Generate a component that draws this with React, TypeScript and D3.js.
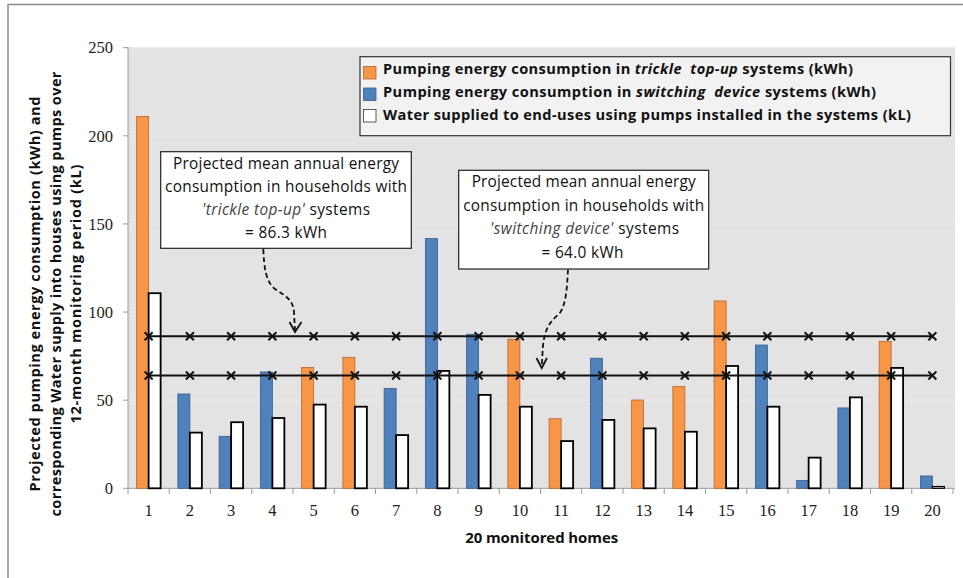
import React from "react";
import * as d3 from "d3";

const homes = ["1","2","3","4","5","6","7","8","9","10","11","12","13","14","15","16","17","18","19","20"];
const systemType = ["t","s","s","s","t","t","s","s","s","t","t","s","t","t","t","s","s","s","t","s"];
const energyKWh = [211, 53.5, 29.5, 66, 68.5, 74.3, 56.7, 141.7, 87.4, 84.6, 39.5, 73.8, 50.1, 57.7, 106.3, 81.3, 4.5, 45.6, 83.4, 7];
const waterKL = [110.7, 31.6, 37.5, 39.9, 47.5, 46.3, 30.2, 66.6, 53, 46.3, 26.8, 38.8, 34, 32.1, 69.4, 46.3, 17.4, 51.6, 68.3, 1];
const meanTrickle = 86.3;
const meanSwitching = 64.0;
const yTicks = [0, 50, 100, 150, 200, 250];

const W = 963, H = 578;
const FONT = "'Open Sans', Lato, sans-serif";
const NUMFONT = "'Liberation Serif', 'DejaVu Serif', serif";
const ORANGE = "#F79646";
const BLUE = "#4F81BD";

export default function App() {
  const x = d3.scaleBand<string>().domain(homes).range([128, 953]).padding(0);
  const sub = d3.scaleBand<string>().domain(["e", "w"]).range([0, x.bandwidth()]).paddingInner(0).paddingOuter(0.72);
  const y = d3.scaleLinear().domain([0, 250]).range([488.3, 47.7]);
  const cx = (h: string) => (x(h) as number) + x.bandwidth() / 2;

  const mk = (v: number) =>
    homes.map((h) => {
      const px = cx(h), py = y(v);
      const r = 4;
      return (
        <path key={h} d={`M${px - r},${py - r}L${px + r},${py + r}M${px - r},${py + r}L${px + r},${py - r}`} stroke="#111" strokeWidth={2} />
      );
    });
  const meanLine = (v: number) => d3.line<string>().x((h) => cx(h)).y(() => y(v))(homes) as string;

  const legendItems = [
    { c: ORANGE, s: "#b8652a", len: 470, parts: [["Pumping energy consumption in ", false], ["trickle  top-up", true], [" systems (kWh)", false]] },
    { c: BLUE, s: "#385d8a", len: 493, parts: [["Pumping energy consumption in ", false], ["switching  device", true], [" systems (kWh)", false]] },
    { c: "#fff", s: "#333", len: 528, parts: [["Water supplied to end-uses using pumps installed in the systems (kL)", false]] },
  ];

  return (
    <svg width={W} height={H} style={{ position: "absolute", left: 0, top: 0, background: "#fff" }} fontFamily={FONT}>
      <rect x={0} y={0} width={W} height={H} fill="#fff" />
      {/* frame */}
      <path d={`M8,${H}L8,4.5L${W},4.5`} fill="none" stroke="#8a8a8a" strokeWidth={1.5} />
      {/* plot background */}
      <rect x={128} y={47} width={827} height={441.3} fill="#e3e3e3" />
      {yTicks.filter((t) => t > 0).map((t) => (
        <line key={t} x1={128} x2={955} y1={y(t)} y2={y(t)} stroke="#ededed" strokeWidth={1} />
      ))}
      {/* y axis */}
      <line x1={128} x2={128} y1={47} y2={488.3} stroke="#9a9a9a" strokeWidth={1} />
      {yTicks.map((t) => (
        <g key={t}>
          <line x1={123} x2={128} y1={y(t)} y2={y(t)} stroke="#9a9a9a" />
          <text x={113} y={y(t)} dy="0.35em" textAnchor="end" fontSize={16.5} fontFamily={NUMFONT} fill="#222">{t}</text>
        </g>
      ))}
      {/* x axis */}
      <line x1={128} x2={955} y1={488.3} y2={488.3} stroke="#9a9a9a" strokeWidth={1} />
      {homes.map((h) => (
        <line key={"t" + h} x1={x(h)} x2={x(h)} y1={488.3} y2={494} stroke="#9a9a9a" />
      ))}
      <line x1={953} x2={953} y1={488.3} y2={494} stroke="#9a9a9a" />
      {homes.map((h) => (
        <text key={"l" + h} x={cx(h)} y={510} dy="0.35em" textAnchor="middle" fontSize={16.5} fontFamily={NUMFONT} fill="#222">{h}</text>
      ))}
      {/* bars */}
      {homes.map((h, i) => {
        const x0 = x(h) as number;
        const e = energyKWh[i], w = waterKL[i];
        const isT = systemType[i] === "t";
        return (
          <g key={"b" + h}>
            <rect x={x0 + (sub("e") as number)} y={y(e)} width={sub.bandwidth()} height={y(0) - y(e)}
              fill={isT ? ORANGE : BLUE} stroke={isT ? "#b8652a" : "#385d8a"} strokeWidth={0.8} />
            <rect x={x0 + (sub("w") as number)} y={y(w)} width={sub.bandwidth()} height={y(0) - y(w)}
              fill="#fff" stroke="#000" strokeWidth={w < 3 ? 1.2 : 1.8} />
          </g>
        );
      })}
      {/* mean lines */}
      <path d={meanLine(meanTrickle)} stroke="#111" strokeWidth={2} fill="none" />
      <path d={meanLine(meanSwitching)} stroke="#111" strokeWidth={2} fill="none" />
      {mk(meanTrickle)}
      {mk(meanSwitching)}
      {/* legend */}
      <rect x={360} y={56.7} width={590.5} height={79} fill="#f2f2f2" stroke="#333" strokeWidth={1.2} />
      {legendItems.map((it, k) => (
        <g key={"lg" + k}>
          <rect x={363.5} y={66.5 + k * 21.5} width={12.5} height={12.5} fill={it.c} stroke={it.s} strokeWidth={0.8} />
          <text x={383} y={68.7 + k * 23.2} dy="0.35em" fontSize={14.6} fontWeight="bold" fill="#111"
            textLength={it.len} lengthAdjust="spacing" style={{ whiteSpace: "pre" }}>
            {it.parts.map((p, j) => (
              <tspan key={j} fontStyle={p[1] ? "italic" : "normal"}>{p[0] as string}</tspan>
            ))}
          </text>
        </g>
      ))}
      {/* annotation 1 */}
      <rect x={160.7} y={151.7} width={250.6} height={96.6} fill="#fff" stroke="#222" strokeWidth={1.2} />
      <g fontSize={15.4} fill="#111" textAnchor="middle">
        <text x={286} y={163.5} dy="0.35em" textLength={226} lengthAdjust="spacing">Projected mean annual energy</text>
        <text x={286} y={187} dy="0.35em" textLength={242} lengthAdjust="spacing">consumption in households with</text>
        <text x={286} y={210} dy="0.35em" textLength={168} lengthAdjust="spacing"><tspan fontStyle="italic" fill="#444">'trickle top-up'</tspan> systems</text>
        <text x={286} y={233} dy="0.35em" textLength={82} lengthAdjust="spacing">= 86.3 kWh</text>
      </g>
      {/* annotation 2 */}
      <rect x={458.7} y={170.3} width={250} height={98.7} fill="#fff" stroke="#222" strokeWidth={1.2} />
      <g fontSize={15.4} fill="#111" textAnchor="middle">
        <text x={583.7} y={182} dy="0.35em" textLength={224} lengthAdjust="spacing">Projected mean annual energy</text>
        <text x={583.7} y={205.5} dy="0.35em" textLength={241} lengthAdjust="spacing">consumption in households with</text>
        <text x={584.5} y={229} dy="0.35em" textLength={189} lengthAdjust="spacing"><tspan fontStyle="italic" fill="#444">'switching device'</tspan> systems</text>
        <text x={582.5} y={252.5} dy="0.35em" textLength={82} lengthAdjust="spacing">= 64.0 kWh</text>
      </g>
      {/* dashed arrows */}
      <path d="M263.3,249 C264,268 266,282 275,289 C286,296 293,300 294,312 L295,331" fill="none" stroke="#111" strokeWidth={1.8} strokeDasharray="5,3" />
      <path d="M289.5,322 L295,332 L301.5,322" fill="none" stroke="#111" strokeWidth={1.8} />
      <path d="M568,269.5 C567,288 566,306 559,314 C549,322 545,330 543,345 L541.7,367" fill="none" stroke="#111" strokeWidth={1.8} strokeDasharray="5,3" />
      <path d="M536.5,358 L541.7,368 L547,358" fill="none" stroke="#111" strokeWidth={1.8} />
      {/* axis titles */}
      <g transform="translate(0,294) rotate(-90)" textAnchor="middle" fontSize={14.6} fontWeight="bold" fill="#111">
        <text x={0} y={35} dy="0.35em" textLength={395} lengthAdjust="spacing">Projected pumping energy consumption (kWh) and</text>
        <text x={0} y={56} dy="0.35em" textLength={445} lengthAdjust="spacing">corresponding Water supply into houses using pumps over</text>
        <text x={0} y={76} dy="0.35em" textLength={259} lengthAdjust="spacing">12-month monitoring period (kL)</text>
      </g>
      <text x={541.7} y={538} dy="0.35em" textAnchor="middle" fontSize={15} fontWeight="bold" fill="#111"
        textLength={153} lengthAdjust="spacing">20 monitored homes</text>
    </svg>
  );
}
